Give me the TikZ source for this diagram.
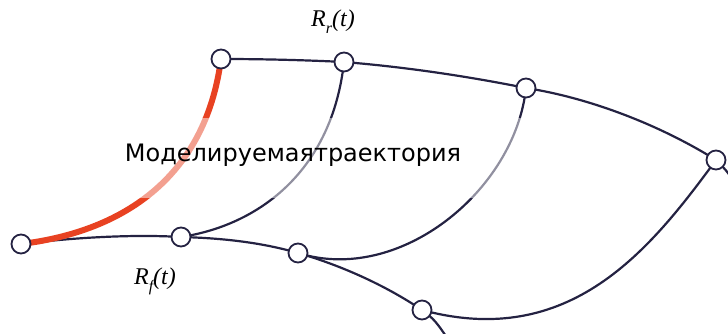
\documentclass[tikz,border=0pt]{standalone}
\usepackage{fontspec}
\setmainfont{Liberation Serif}
\newfontfamily\labfont{DejaVu Sans}
\definecolor{navy}{RGB}{36,34,66}
\definecolor{trajred}{RGB}{232,66,34}
\tikzset{
  pt/.style={circle, draw=navy, fill=white, line width=1.8pt, minimum size=19pt, inner sep=0pt},
  edge/.style={draw=navy, line width=2.2pt},
  traj/.style={draw=trajred, line width=6pt},
  rlab/.style={font=\fontsize{24}{24}\selectfont\itshape, inner sep=0pt}
}
\newcommand{\rsub}[1]{\textit{R}\raisebox{-0.3em}{\fontsize{16}{16}\selectfont\itshape #1}\textit{(t)}}
\begin{document}
\begin{tikzpicture}[x=1pt,y=-1pt]
\useasboundingbox (0,0) rectangle (728,334);
% node positions
\coordinate (A) at (21,244);
\coordinate (B) at (221,59);
\coordinate (C) at (344,62);
\coordinate (D) at (526,88);
\coordinate (E) at (716,160);
\coordinate (F) at (181,237);
\coordinate (G) at (298,253);
\coordinate (H) at (422,310);
\coordinate (Eout) at (742,195);
\coordinate (Hout) at (452,345);
% upper chain
\draw[edge] (B) .. controls (262,59) and (303,60) .. (C);
\draw[edge] (C) .. controls (405,67) and (466,76) .. (D);
\draw[edge] (D) .. controls (590,98) and (660,125) .. (E);
\draw[edge] (E) .. controls (728,172) .. (Eout);
% lower chain
\draw[edge] (A) .. controls (70,238) and (130,234) .. (F);
\draw[edge] (F) .. controls (220,238) and (260,242) .. (G);
\draw[edge] (G) .. controls (340,265) and (385,285) .. (H);
\draw[edge] (H) .. controls (435,320) .. (Hout);
% cross curves
\draw[edge] (C) .. controls (332,170) and (260,225) .. (F);
\draw[edge] (D) .. controls (515,190) and (400,285) .. (G);
\draw[edge] (E) .. controls (650,250) and (570,350) .. (H);
% modelled trajectory
\draw[traj] (A) .. controls (120,232) and (205,180) .. (B);
% translucent veil behind label
\node (veil) [fill=white, fill opacity=0.5, minimum width=420pt, minimum height=80pt, inner sep=0pt] at (322,158) {};
\node (lbl) [font=\labfont\fontsize{24}{24}\selectfont, inner sep=0pt] at (293,155) {Моделируемаятраектория};
% points
\foreach \p in {A,B,C,D,E,F,G,H} \node[pt] (n\p) at (\p) {};
% labels
\node[rlab] (rr) at (333,22) {\rsub{r}};
\node[rlab] (rf) at (155,281) {\rsub{f}};
\end{tikzpicture}
\end{document}
